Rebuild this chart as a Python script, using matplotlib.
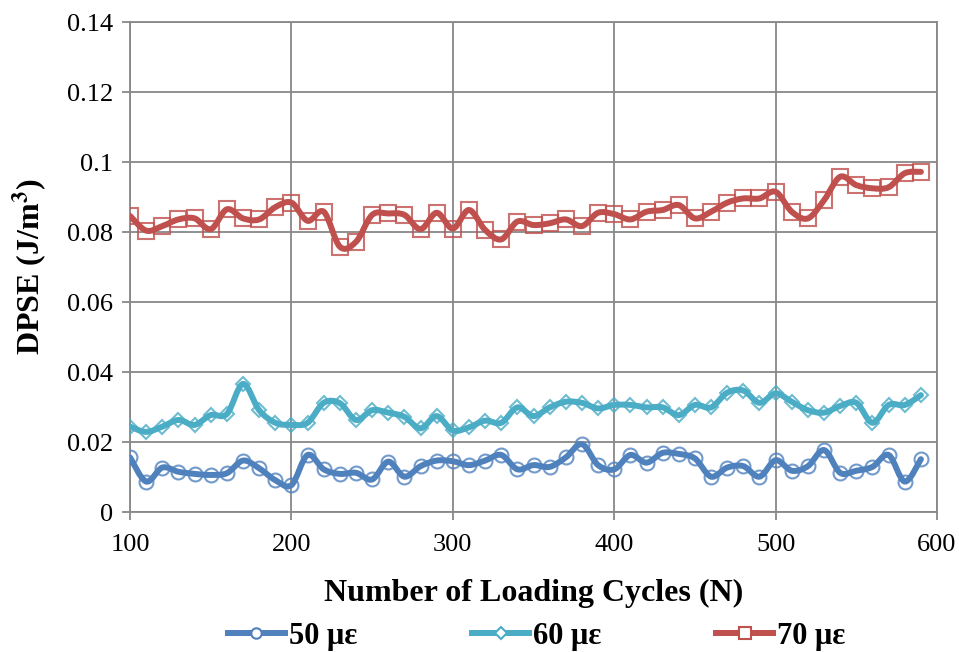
import numpy as np
import matplotlib
matplotlib.use('Agg')
import matplotlib.pyplot as plt
from matplotlib.path import Path
from matplotlib.patches import PathPatch
from matplotlib.lines import Line2D
from matplotlib.ticker import FuncFormatter

# loading cycles
cycles = list(range(100, 600, 10))

# DPSE values (J/m3)
dpse_50 = [0.0156, 0.0087, 0.0127, 0.0115, 0.0109, 0.0106, 0.0111, 0.0147, 0.0125, 0.0091,
           0.0077, 0.0163, 0.0122, 0.0109, 0.0112, 0.0093, 0.0144, 0.0101, 0.0131, 0.0147,
           0.0145, 0.0134, 0.0147, 0.0163, 0.0122, 0.0134, 0.0129, 0.0156, 0.0194, 0.0134,
           0.0122, 0.0163, 0.0141, 0.0169, 0.0166, 0.0153, 0.0101, 0.0127, 0.0131, 0.0101,
           0.0148, 0.0118, 0.0131, 0.0177, 0.0112, 0.0118, 0.0129, 0.0163, 0.0087, 0.0151]
dpse_60 = [0.0244, 0.0229, 0.0244, 0.0263, 0.0249, 0.0277, 0.0280, 0.0366, 0.0291, 0.0255,
           0.0249, 0.0255, 0.0312, 0.0311, 0.0263, 0.0291, 0.0284, 0.0272, 0.0239, 0.0274,
           0.0233, 0.0242, 0.0261, 0.0255, 0.0299, 0.0274, 0.0299, 0.0315, 0.0312, 0.0296,
           0.0306, 0.0306, 0.0299, 0.0299, 0.0277, 0.0306, 0.0299, 0.0341, 0.0347, 0.0312,
           0.0339, 0.0315, 0.0291, 0.0284, 0.0303, 0.0312, 0.0255, 0.0306, 0.0306, 0.0334]
dpse_70 = [0.0846, 0.0804, 0.0817, 0.0836, 0.0839, 0.0808, 0.0865, 0.0839, 0.0836, 0.0871,
           0.0884, 0.0832, 0.0858, 0.0758, 0.0772, 0.0849, 0.0853, 0.0849, 0.0808, 0.0855,
           0.0810, 0.0863, 0.0806, 0.0779, 0.0830, 0.0820, 0.0825, 0.0836, 0.0817, 0.0855,
           0.0851, 0.0836, 0.0858, 0.0863, 0.0877, 0.0839, 0.0858, 0.0884, 0.0896, 0.0896,
           0.0915, 0.0858, 0.0839, 0.0891, 0.0958, 0.0934, 0.0925, 0.0928, 0.0968, 0.0972]

labels = ['50 \u03bc\u03b5', '60 \u03bc\u03b5', '70 \u03bc\u03b5']
colors = ['#4F81BD', '#4BACC6', '#C0504D']
markers = ['o', 'D', 's']
msizes = [10, 7.5, 11]

plt.rcParams['font.family'] = ['Liberation Serif', 'DejaVu Serif']
plt.rcParams['mathtext.fontset'] = 'stix'


def smooth_path(x, y):
    # excel-like smoothed line (catmull-rom as cubic bezier)
    x = np.asarray(x, float)
    y = np.asarray(y, float)
    n = len(x)
    verts = [(x[0], y[0])]
    codes = [Path.MOVETO]
    for i in range(n - 1):
        i0 = max(i - 1, 0)
        i3 = min(i + 2, n - 1)
        c1 = (x[i] + (x[i + 1] - x[i0]) / 6.0, y[i] + (y[i + 1] - y[i0]) / 6.0)
        c2 = (x[i + 1] - (x[i3] - x[i]) / 6.0, y[i + 1] - (y[i3] - y[i]) / 6.0)
        verts += [c1, c2, (x[i + 1], y[i + 1])]
        codes += [Path.CURVE4] * 3
    return Path(verts, codes)


fig = plt.figure(figsize=(9.59, 6.52), dpi=100)
ax = fig.add_axes([0.1356, 0.2147, 0.8415, 0.7515])

series = [dpse_50, dpse_60, dpse_70]
handles = []
for vals, c, m, ms, lab in zip(series, colors, markers, msizes, labels):
    patch = PathPatch(smooth_path(cycles, vals), fill=False, edgecolor=c, lw=4.3,
                      capstyle='round', joinstyle='round', zorder=3)
    ax.add_patch(patch)
    ax.plot(cycles, vals, ls='none', marker=m, ms=ms, mfc='none', mec=c,
            mew=1.5, alpha=0.8, zorder=4)
    handles.append(Line2D([], [], color=c, lw=4.3, marker=m, ms=ms * 0.75,
                          mfc='white', mec=c, mew=1.5, label=lab))

ax.set_xlim(100, 600)
ax.set_ylim(0, 0.14)
ax.set_xticks(np.arange(100, 601, 100))
ax.set_yticks(np.arange(0, 0.1401, 0.02))
ax.yaxis.set_major_formatter(FuncFormatter(lambda v, p: '%g' % round(v, 2)))
ax.grid(True, color='#888888', lw=1.3)
ax.set_axisbelow(True)
for s in ax.spines.values():
    s.set_color('#888888')
    s.set_linewidth(1.3)
ax.tick_params(axis='both', direction='out', length=6, width=1.3, color='#888888',
               labelsize=19, pad=6)
ax.tick_params(axis='x', pad=10)

ax.set_xlabel('Number of Loading Cycles (N)', fontsize=23, fontweight='bold', labelpad=16)
ax.set_ylabel(r'DPSE (J/m$^{\mathbf{3}}$)', fontsize=23, fontweight='bold', labelpad=12)

fig.legend(handles=handles, loc='lower center', bbox_to_anchor=(0.56, -0.04), ncol=3,
           frameon=False, handlelength=1.85, columnspacing=3.75, handletextpad=0.15,
           prop={'size': 22, 'weight': 'bold'})

fig.savefig('out.png', dpi=100)
